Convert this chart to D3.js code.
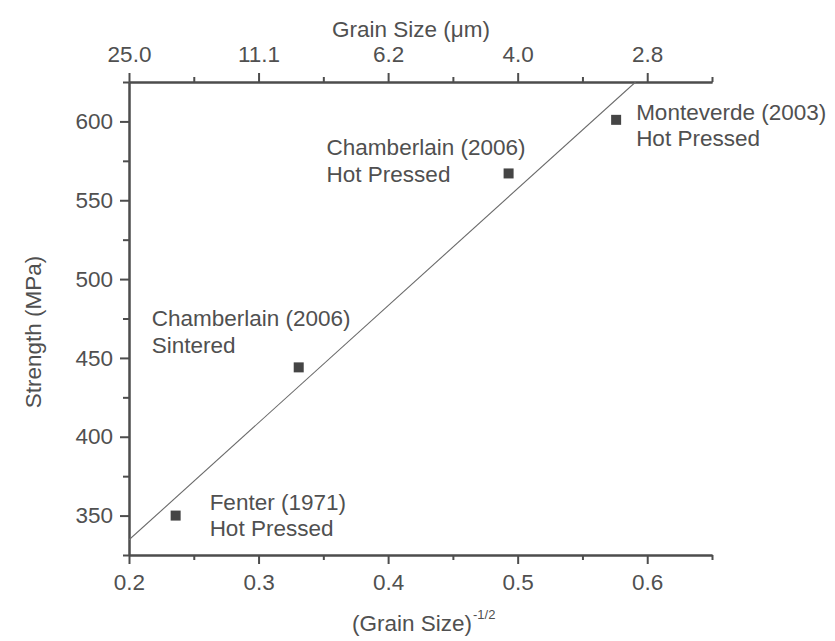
<!DOCTYPE html>
<html>
<head>
<meta charset="utf-8">
<script src="https://cdn.jsdelivr.net/npm/d3@7/dist/d3.min.js"></script>
<style>
  html, body { margin: 0; padding: 0; background: #fff; }
  svg { display: block; }
  text { font-family: "Liberation Sans", Arial, Helvetica, sans-serif; fill: #505050; }
</style>
</head>
<body>
<svg id="chart" width="835" height="641"></svg>
<script>
// ---- data ----
const pointX = [0.236, 0.331, 0.493, 0.576];          // (Grain Size)^-1/2
const pointY = [350, 444, 567, 601];                  // Strength (MPa)
const pointLabel1 = ["Fenter (1971)", "Chamberlain (2006)", "Chamberlain (2006)", "Monteverde (2003)"];
const pointLabel2 = ["Hot Pressed", "Sintered", "Hot Pressed", "Hot Pressed"];
const fitLineX = [0.2, 0.591];
const fitLineY = [334.6, 625];
const bottomMajorTicks = [0.2, 0.3, 0.4, 0.5, 0.6];
const bottomMinorTicks = [0.25, 0.35, 0.45, 0.55, 0.65];
const topTickLabels = ["25.0", "11.1", "6.2", "4.0", "2.8"];   // at bottomMajorTicks positions
const leftMajorTicks = [350, 400, 450, 500, 550, 600];
const leftMinorTicks = [325, 375, 425, 475, 525, 575, 625];

// ---- layout ----
const svg = d3.select("#chart");
const X0 = 129, X1 = 712, Y0 = 555, Y1 = 82;
const x = d3.scaleLinear().domain([0.2, 0.65]).range([X0, X1]);
const y = d3.scaleLinear().domain([325, 625]).range([Y0, Y1]);
const axisColor = "#4d4d4d";
const FS = "22.5px";

function styleAxis(g) {
  g.selectAll("path.domain").attr("stroke", axisColor).attr("stroke-width", 2);
  g.selectAll(".tick line").attr("stroke", axisColor).attr("stroke-width", 2);
  g.selectAll(".tick text").attr("fill", "#505050").style("font-size", FS)
    .style("font-family", '"Liberation Sans", Arial, sans-serif');
}

// bottom axis
const gb = svg.append("g").attr("transform", `translate(0,${Y0})`);
gb.call(d3.axisBottom(x).tickValues(bottomMajorTicks).tickSize(9).tickPadding(10)
  .tickFormat(d3.format(".1f")).tickSizeOuter(0));
styleAxis(gb);
const gbm = svg.append("g").attr("transform", `translate(0,${Y0})`);
gbm.call(d3.axisBottom(x).tickValues(bottomMinorTicks).tickSize(5).tickFormat("").tickSizeOuter(0));
styleAxis(gbm);

// top axis
const gt = svg.append("g").attr("transform", `translate(0,${Y1})`);
gt.call(d3.axisTop(x).tickValues(bottomMajorTicks).tickSize(9).tickPadding(11)
  .tickFormat((d, i) => topTickLabels[i]).tickSizeOuter(0));
styleAxis(gt);
const gtm = svg.append("g").attr("transform", `translate(0,${Y1})`);
gtm.call(d3.axisTop(x).tickValues(bottomMinorTicks).tickSize(5).tickFormat("").tickSizeOuter(0));
styleAxis(gtm);

// left axis
const gl = svg.append("g").attr("transform", `translate(${X0},0)`);
gl.call(d3.axisLeft(y).tickValues(leftMajorTicks).tickSize(9).tickPadding(7)
  .tickFormat(d3.format("d")).tickSizeOuter(0));
styleAxis(gl);
const glm = svg.append("g").attr("transform", `translate(${X0},0)`);
glm.call(d3.axisLeft(y).tickValues(leftMinorTicks).tickSize(6).tickFormat("").tickSizeOuter(0));
styleAxis(glm);

// fit line (clipped to plot)
svg.append("defs").append("clipPath").attr("id", "plotclip")
  .append("rect").attr("x", X0).attr("y", Y1).attr("width", X1 - X0).attr("height", Y0 - Y1);
const fitData = fitLineX.map((v, i) => [v, fitLineY[i]]);
svg.append("path")
  .attr("clip-path", "url(#plotclip)")
  .attr("d", d3.line().x(d => x(d[0])).y(d => y(d[1]))(fitData))
  .attr("fill", "none").attr("stroke", "#6a6a6a").attr("stroke-width", 1.1);

// markers
const pts = pointX.map((v, i) => ({ x: v, y: pointY[i], l1: pointLabel1[i], l2: pointLabel2[i] }));
const ms = 10;
svg.append("g").selectAll("rect").data(pts).join("rect")
  .attr("x", d => x(d.x) - ms / 2).attr("y", d => y(d.y) - ms / 2)
  .attr("width", ms).attr("height", ms).attr("fill", "#454545");

// point labels (offsets relative to marker)
const labelOffsets = [[34, -6], [-147, -41], [-182, -18], [20, 0]];
const lab = svg.append("g").selectAll("text").data(pts).join("text")
  .attr("x", (d, i) => x(d.x) + labelOffsets[i][0])
  .attr("y", (d, i) => y(d.y) + labelOffsets[i][1])
  .style("font-size", FS);
lab.append("tspan").text(d => d.l1);
lab.append("tspan").attr("x", (d, i) => x(d.x) + labelOffsets[i][0]).attr("dy", 26.5).text(d => d.l2);

// axis titles
svg.append("text").attr("x", 411).attr("y", 37).attr("text-anchor", "middle")
  .style("font-size", FS).text("Grain Size (\u03bcm)");

const bt = svg.append("text").attr("x", 352).attr("y", 631).style("font-size", FS);
bt.append("tspan").text("(Grain Size)");
bt.append("tspan").attr("dx", 1).attr("dy", -12).style("font-size", "13px").text("-1/2");

svg.append("text").attr("transform", "translate(41,332) rotate(-90)")
  .attr("text-anchor", "middle").style("font-size", FS).text("Strength (MPa)");
</script>
</body>
</html>
